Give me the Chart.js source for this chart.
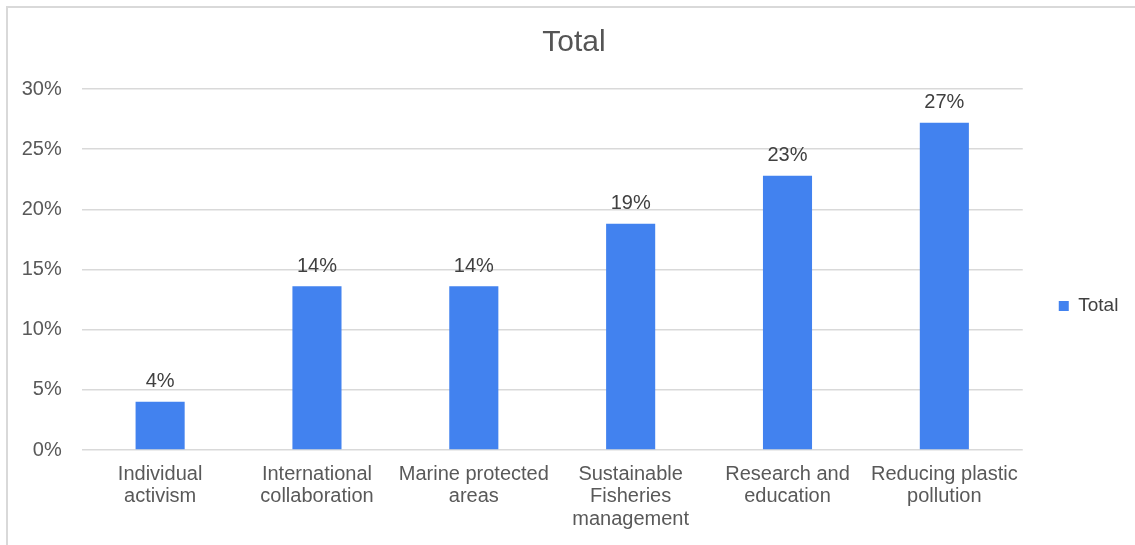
<!DOCTYPE html>
<html>
<head>
<meta charset="utf-8">
<script src="https://cdn.jsdelivr.net/npm/chart.js@4/dist/chart.umd.min.js"></script>
<style>
  html, body { margin: 0; padding: 0; background: #ffffff; overflow: hidden; }
  #wrap { position: relative; width: 1135px; height: 545px; }
  #c { position: absolute; left: 0; top: 0; }
  #frame { position: absolute; left: 6px; top: 6px; width: 1140px; height: 560px;
           border-top: 2px solid #d9d9d9; border-left: 2px solid #d9d9d9; pointer-events: none; }
</style>
</head>
<body>
<div id="wrap">
  <canvas id="c" width="1135" height="545"></canvas>
  <div id="frame"></div>
</div>
<script>
const chartTitle = 'Total';
const seriesName = 'Total';
const categories = [
  ['Individual', 'activism'],
  ['International', 'collaboration'],
  ['Marine protected', 'areas'],
  ['Sustainable', 'Fisheries', 'management'],
  ['Research and', 'education'],
  ['Reducing plastic', 'pollution']
];
const values = [4.0, 13.6, 13.6, 18.8, 22.8, 27.2];
const valueLabels = ['4%', '14%', '14%', '19%', '23%', '27%'];
const yTicks = [0, 5, 10, 15, 20, 25, 30];
const yTickLabels = ['0%', '5%', '10%', '15%', '20%', '25%', '30%'];

const FONT = '"Liberation Sans", Arial, Helvetica, sans-serif';

const valueLabelPlugin = {
  id: 'valueLabels',
  afterDatasetsDraw(chart) {
    const ctx = chart.ctx;
    const meta = chart.getDatasetMeta(0);
    ctx.save();
    ctx.font = '20px ' + FONT;
    ctx.fillStyle = '#404040';
    ctx.textAlign = 'center';
    ctx.textBaseline = 'alphabetic';
    meta.data.forEach((bar, i) => {
      ctx.fillText(valueLabels[i], bar.x, bar.y - 14.5);
    });
    ctx.restore();
  }
};

new Chart(document.getElementById('c'), {
  type: 'bar',
  data: {
    labels: categories,
    datasets: [{
      label: seriesName,
      data: values,
      backgroundColor: '#4282ef',
      borderWidth: 0,
      barPercentage: 0.313,
      categoryPercentage: 1.0
    }]
  },
  options: {
    responsive: false,
    animation: false,
    devicePixelRatio: 1,
    layout: { padding: { left: 19.6, right: 6.6, top: 0, bottom: 0 } },
    plugins: {
      title: {
        display: true,
        text: chartTitle,
        color: '#555555',
        font: { family: FONT, size: 30, weight: 'normal', lineHeight: 1.2 },
        padding: { top: 24.6, bottom: 28.4 }
      },
      legend: {
        display: true,
        position: 'right',
        title: { display: true, text: '', font: { size: 10, lineHeight: 1.2 }, padding: { top: 0, bottom: 55 } },
        labels: {
          boxWidth: 10,
          boxHeight: 10,
          padding: 36,
          color: '#404040',
          font: { family: FONT, size: 19 }
        }
      },
      tooltip: { enabled: false }
    },
    scales: {
      x: {
        grid: { display: false, drawTicks: false },
        border: { display: false },
        ticks: {
          color: '#595959',
          font: { family: FONT, size: 20, lineHeight: 1.125 },
          padding: 13,
          maxRotation: 0,
          autoSkip: false
        },
        afterFit(scale) { scale.height = 95; }
      },
      y: {
        min: 0,
        max: 30,
        afterBuildTicks(scale) { scale.ticks = yTicks.map(v => ({ value: v })); },
        grid: { color: '#d9d9d9', lineWidth: 1.5, drawTicks: false },
        border: { display: false },
        ticks: {
          color: '#595959',
          font: { family: FONT, size: 20 },
          padding: 20,
          callback(value) { return yTickLabels[yTicks.indexOf(value)]; }
        },
        afterFit(scale) { scale.width = 62.1; }
      }
    }
  },
  plugins: [valueLabelPlugin]
});
</script>
</body>
</html>
